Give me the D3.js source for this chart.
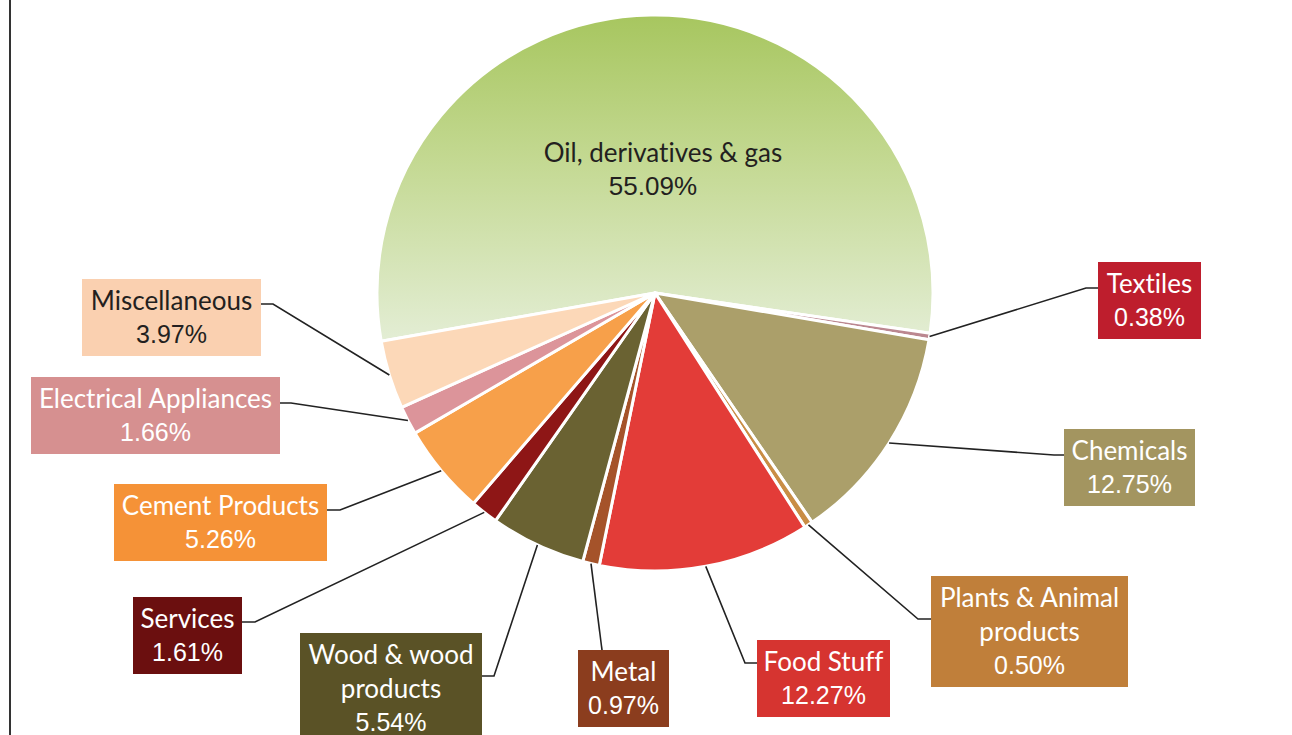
<!DOCTYPE html>
<html>
<head>
<meta charset="utf-8">
<script src="https://cdn.jsdelivr.net/npm/d3@7"></script>
<style>
  html, body { margin: 0; padding: 0; background: #fff; }
  svg { display: block; }
  text { font-variant-ligatures: none; font-feature-settings: "liga" 0; }
</style>
</head>
<body>
<svg id="chart" width="1292" height="735"></svg>
<script>
// ---- data ----
const categories = ["Oil, derivatives & gas", "Textiles", "Chemicals", "Plants & Animal products",
  "Food Stuff", "Metal", "Wood & wood products", "Services", "Cement Products",
  "Electrical Appliances", "Miscellaneous"];
const shares = [55.09, 0.38, 12.75, 0.50, 12.27, 0.97, 5.54, 1.61, 5.26, 1.66, 3.97];
const labelLines = [
  ["Oil, derivatives & gas"], ["Textiles"], ["Chemicals"], ["Plants & Animal", "products"],
  ["Food Stuff"], ["Metal"], ["Wood & wood", "products"], ["Services"], ["Cement Products"],
  ["Electrical Appliances"], ["Miscellaneous"]
];

// ---- styles ----
const sliceColors = ["url(#oilGrad)", "#bb8790", "#ab9f6a", "#c98d45", "#e33c38", "#a5532a",
  "#6a6232", "#8e1616", "#f7a04a", "#dc949a", "#fcd8b8"];
const boxColors = [null, "#be1e2d", "#a39560", "#c07f3a", "#d63430", "#8b3d1e",
  "#5a5226", "#6b0f0f", "#f59237", "#d69090", "#fad0b0"];
const textColors = ["#231f20", "#fff", "#fff", "#fff", "#fff", "#fff", "#fff", "#fff", "#fff", "#fff", "#231f20"];

// ---- label layout (box x, y, w, h; elbow point; box attach point) ----
const layout = [
  null,
  { box: [1098, 262, 103, 77], elbow: [1086, 288], attach: [1098, 288] },
  { box: [1064, 429, 131, 77], elbow: [1054, 455], attach: [1064, 455] },
  { box: [931, 576, 197, 111], elbow: [918, 619], attach: [931, 619] },
  { box: [757, 640, 133, 77], elbow: [745, 663], attach: [757, 663] },
  { box: [578, 650, 91, 77], elbow: null, attach: [602, 650] },
  { box: [300, 633, 182, 112], elbow: [494, 676], attach: [482, 676] },
  { box: [133, 597, 109, 77], elbow: [255, 622], attach: [242, 622] },
  { box: [114, 484, 213, 77], elbow: [340, 510], attach: [327, 510] },
  { box: [31, 377, 249, 77], elbow: [291, 403], attach: [280, 403] },
  { box: [82, 279, 179, 77], elbow: [273, 304], attach: [261, 304] }
];

const cx = 655, cy = 293, R = 278;
const startDeg = -100;

const svg = d3.select("#chart");

// left border line
svg.append("line").attr("x1", 10).attr("x2", 10).attr("y1", 0).attr("y2", 735)
  .attr("stroke", "#333").attr("stroke-width", 2);

const defs = svg.append("defs");
const grad = defs.append("linearGradient").attr("id", "oilGrad")
  .attr("gradientUnits", "userSpaceOnUse")
  .attr("x1", 0).attr("x2", 0).attr("y1", 15 - cy).attr("y2", 345 - cy);
grad.append("stop").attr("offset", 0).attr("stop-color", "#a7c65f");
grad.append("stop").attr("offset", 0.45).attr("stop-color", "#c4d993");
grad.append("stop").attr("offset", 1).attr("stop-color", "#e4eed6");

const data = categories.map((c, i) => ({ name: c, value: shares[i], i }));

const pie = d3.pie().sort(null).value(d => d.value)
  .startAngle(startDeg * Math.PI / 180)
  .endAngle((startDeg + 360) * Math.PI / 180);
const arcs = pie(data);

const arc = d3.arc().innerRadius(0).outerRadius(R);
const g = svg.append("g").attr("transform", `translate(${cx},${cy})`);

g.selectAll("path.slice").data(arcs).join("path")
  .attr("class", "slice")
  .attr("d", arc)
  .attr("fill", d => sliceColors[d.data.i])
  .attr("stroke", "#fff")
  .attr("stroke-width", 3)
  .attr("stroke-linejoin", "round");

const fmt = v => v.toFixed(2) + "%";
const nameFont = "Lato, 'Open Sans', sans-serif";
const pctFont = "'Liberation Sans', Arial, sans-serif";

// Oil label inside slice
const oil = arcs[0];
const labelArc = d3.arc().innerRadius(R * 0.5).outerRadius(R * 0.5);
const oc = labelArc.centroid(oil);
const oilLbl = svg.append("text").attr("text-anchor", "middle").attr("fill", textColors[0]);
oilLbl.append("tspan").attr("x", cx + oc[0] + 10).attr("y", cy + oc[1] + 8)
  .attr("font-family", nameFont).attr("font-size", 26).text(labelLines[0][0]);
oilLbl.append("tspan").attr("x", cx + oc[0]).attr("y", cy + oc[1] + 41)
  .attr("font-family", pctFont).attr("font-size", 26).text(fmt(shares[0]));

// connectors + boxes
const outer = d3.arc().innerRadius(R).outerRadius(R);
arcs.slice(1).forEach(a => {
  const i = a.data.i, L = layout[i];
  const p = outer.centroid(a);
  const start = [cx + p[0], cy + p[1]];
  const pts = [start];
  if (L.elbow) pts.push(L.elbow);
  pts.push(L.attach);
  svg.append("path").attr("d", d3.line()(pts)).attr("fill", "none")
    .attr("stroke", "#222").attr("stroke-width", 1.6);

  const [bx, by, bw, bh] = L.box;
  svg.append("rect").attr("x", bx).attr("y", by).attr("width", bw).attr("height", bh)
    .attr("fill", boxColors[i]);
  const t = svg.append("text").attr("text-anchor", "middle").attr("fill", textColors[i]);
  const lines = labelLines[i];
  lines.forEach((ln, k) => {
    t.append("tspan").attr("x", bx + bw / 2).attr("y", by + 31 + k * 34)
      .attr("font-family", nameFont).attr("font-size", 26).text(ln);
  });
  t.append("tspan").attr("x", bx + bw / 2).attr("y", by + 31 + lines.length * 34 - 1)
    .attr("font-family", pctFont).attr("font-size", 25).text(fmt(shares[i]));
});
</script>
</body>
</html>
